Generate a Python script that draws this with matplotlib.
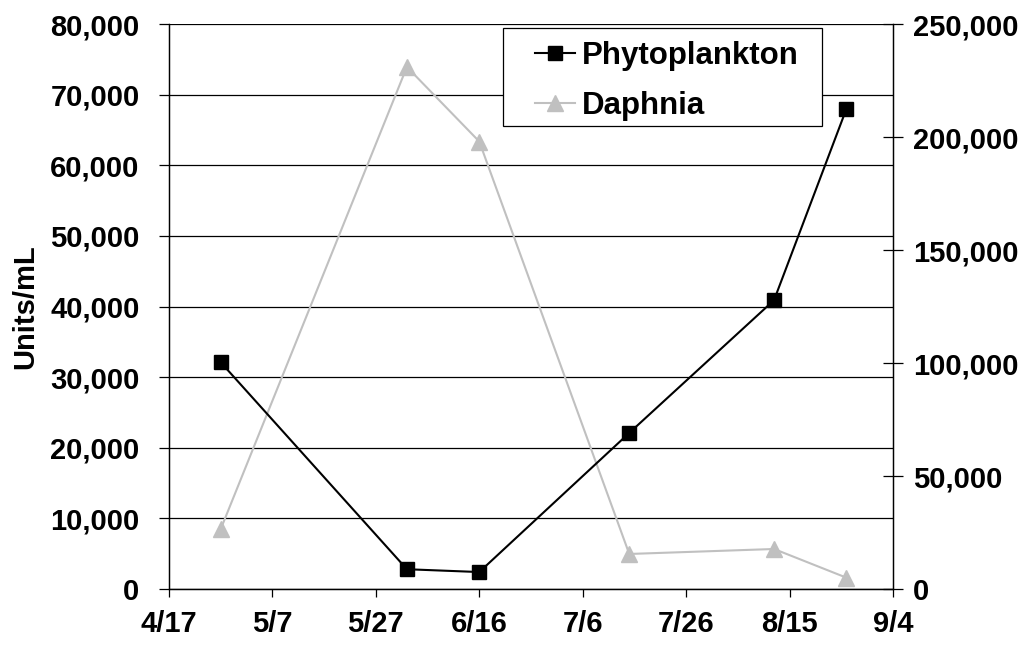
import datetime as dt
import matplotlib
matplotlib.use("Agg")
import matplotlib.pyplot as plt
from matplotlib.patches import Rectangle
from matplotlib.ticker import FuncFormatter

plt.rcParams['font.family'] = ['Liberation Sans', 'DejaVu Sans']
plt.rcParams['font.weight'] = 'bold'

# sampling dates (year is arbitrary)
dates = ["2000-04-27", "2000-06-02", "2000-06-16", "2000-07-15", "2000-08-12", "2000-08-26"]
phyto = [32100, 2800, 2400, 22100, 40900, 68000]        # left axis
daphnia = [26500, 231000, 198000, 15500, 17700, 5000]   # right axis

xtick_dates = ["2000-04-17", "2000-05-07", "2000-05-27", "2000-06-16",
               "2000-07-06", "2000-07-26", "2000-08-15", "2000-09-04"]
xtick_labels = ["4/17", "5/7", "5/27", "6/16", "7/6", "7/26", "8/15", "9/4"]

x = [dt.datetime.strptime(d, "%Y-%m-%d") for d in dates]
xt = [dt.datetime.strptime(d, "%Y-%m-%d") for d in xtick_dates]

fig = plt.figure(figsize=(10.29, 6.47), dpi=100)
ax = fig.add_axes([169/1029, 1 - 589/647, (893-169)/1029, (589-24)/647])
ax2 = ax.twinx()

fs = 21
comma = FuncFormatter(lambda v, p: f"{int(v):,}")

# left axis
ax.set_ylim(0, 80000)
ax.set_yticks(range(0, 80001, 10000))
ax.yaxis.set_major_formatter(comma)
ax.grid(axis='y', color='black', linewidth=0.9)
ax.set_axisbelow(True)
ax.set_ylabel("Units/mL", fontsize=fs, fontweight='bold', labelpad=8)
ax.set_xlim(xt[0], xt[-1])
ax.set_xticks(xt)
ax.set_xticklabels(xtick_labels)
ax.tick_params(axis='y', direction='out', length=7.2, width=0.9, labelsize=fs, pad=14)
ax.tick_params(axis='x', direction='out', length=6, width=0.9, labelsize=fs, pad=9)

# right axis
ax2.set_ylim(0, 250000)
ax2.set_yticks(range(0, 250001, 50000))
ax2.yaxis.set_major_formatter(comma)
ax2.tick_params(axis='y', direction='inout', length=14.4, width=0.9, labelsize=fs, pad=7)

for a in (ax, ax2):
    for s in a.spines.values():
        s.set_linewidth(0.9)
    a.spines['top'].set_visible(False)

l2, = ax2.plot(x, daphnia, color='#C0C0C0', linewidth=1.5, marker='^',
               markersize=11, label='Daphnia', clip_on=False)
l1, = ax2.plot(x, [v * 250000 / 80000 for v in phyto], color='black', linewidth=1.5,
               marker='s', markersize=10, label='Phytoplankton', clip_on=False)

# legend box (frame drawn separately so padding matches the original)
box = Rectangle((0.461, 0.8195), 0.441, 0.1735, transform=ax2.transAxes,
                facecolor='white', edgecolor='black', linewidth=0.9, zorder=5)
ax2.add_patch(box)
leg = ax2.legend(handles=[l1, l2], loc='upper left', bbox_to_anchor=(0.505, 0.970),
                 prop={'size': 22.5, 'weight': 'bold'}, frameon=False,
                 borderpad=0, handlelength=1.29, handletextpad=0.23,
                 labelspacing=0.63, borderaxespad=0)
leg.set_zorder(6)

fig.savefig("out.png", dpi=100)
